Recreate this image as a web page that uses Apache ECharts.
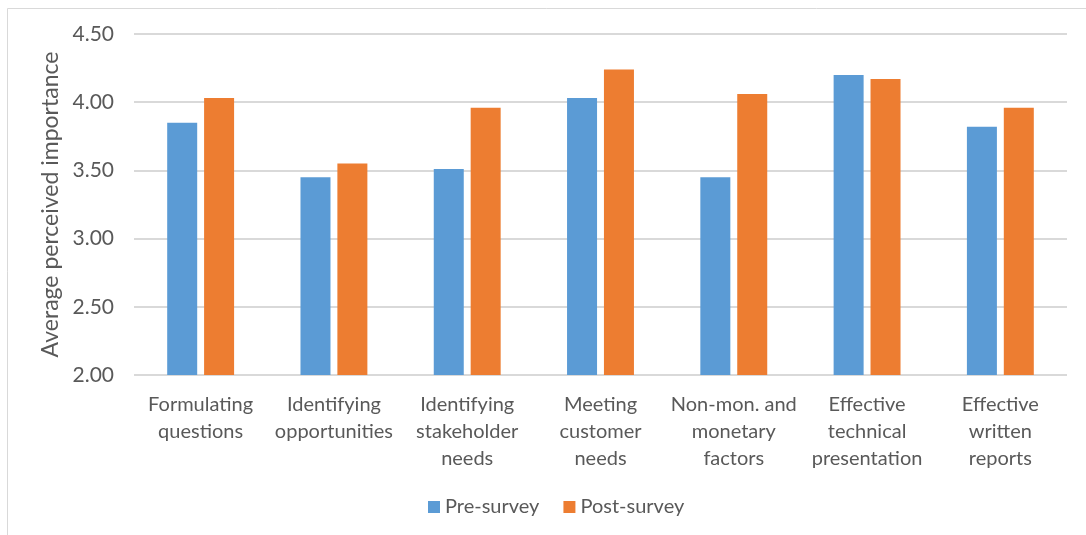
<!DOCTYPE html>
<html>
<head>
<meta charset="utf-8">
<script src="https://cdn.jsdelivr.net/npm/echarts@6/dist/echarts.min.js"></script>
<style>
  html, body { margin: 0; padding: 0; background: #ffffff; }
  #chart { width: 1086px; height: 535px; }
</style>
</head>
<body>
<div id="chart"></div>
<script>
const categories = [
  'Formulating\nquestions',
  'Identifying\nopportunities',
  'Identifying\nstakeholder\nneeds',
  'Meeting\ncustomer\nneeds',
  'Non-mon. and\nmonetary\nfactors',
  'Effective\ntechnical\npresentation',
  'Effective\nwritten\nreports'
];
const preSurvey = [3.85, 3.45, 3.51, 4.03, 3.45, 4.20, 3.82];
const postSurvey = [4.03, 3.55, 3.96, 4.24, 4.06, 4.17, 3.96];
const seriesNames = ['Pre-survey', 'Post-survey'];
const yAxisTitle = 'Average perceived importance';

const FONT = 'Lato, "Open Sans", sans-serif';
const TXT = '#595959';

const chart = echarts.init(document.getElementById('chart'), null, { renderer: 'canvas' });
chart.setOption({
  backgroundColor: '#ffffff',
  animation: false,
  textStyle: { fontFamily: FONT, color: TXT },
  graphic: [
    { type: 'line', shape: { x1: 7.5, y1: 8.5, x2: 1086, y2: 8.5 }, style: { stroke: '#d9d9d9', lineWidth: 1 } },
    { type: 'line', shape: { x1: 7.5, y1: 8.5, x2: 7.5, y2: 535 }, style: { stroke: '#d9d9d9', lineWidth: 1 } }
  ],
  grid: { left: 134, right: 19, top: 34, bottom: 160, containLabel: false },
  legend: {
    data: seriesNames,
    bottom: 13,
    left: 423,
    itemWidth: 12,
    itemHeight: 12,
    itemGap: 24,
    icon: 'rect',
    textStyle: { fontFamily: FONT, fontSize: 20, color: TXT }
  },
  xAxis: {
    type: 'category',
    data: categories,
    axisLine: { show: false },
    axisTick: { show: false },
    axisLabel: {
      interval: 0,
      margin: 16,
      fontFamily: FONT,
      fontSize: 20,
      lineHeight: 27,
      color: TXT,
      align: 'center'
    }
  },
  yAxis: {
    type: 'value',
    min: 2,
    max: 4.5,
    interval: 0.5,
    name: yAxisTitle,
    nameLocation: 'middle',
    nameGap: 68,
    nameRotate: 90,
    nameTextStyle: { fontFamily: FONT, fontSize: 23, color: TXT },
    axisLine: { show: false },
    axisTick: { show: false },
    axisLabel: {
      margin: 20,
      fontFamily: FONT,
      fontSize: 21,
      color: TXT,
      formatter: v => v.toFixed(2)
    },
    splitLine: { lineStyle: { color: '#d9d9d9', width: 2 } }
  },
  series: [
    {
      name: seriesNames[0],
      type: 'bar',
      data: preSurvey,
      barWidth: 30,
      barGap: '23%',
      itemStyle: { color: '#5B9BD5' }
    },
    {
      name: seriesNames[1],
      type: 'bar',
      data: postSurvey,
      barWidth: 30,
      barGap: '23%',
      itemStyle: { color: '#ED7D31' }
    }
  ]
});
</script>
</body>
</html>
